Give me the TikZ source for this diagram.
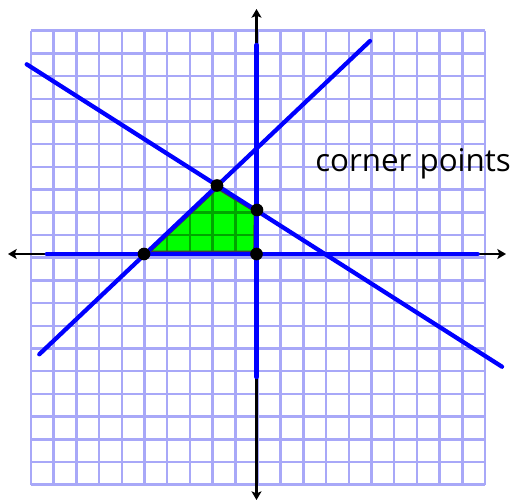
\documentclass[tikz,border=0pt]{standalone}
\usepackage{fontspec}
\setsansfont{Open Sans}
\usetikzlibrary{arrows.meta}
\definecolor{gridc}{RGB}{168,168,248}
\definecolor{greenfill}{RGB}{0,255,0}
\definecolor{greengrid}{RGB}{0,165,0}
\definecolor{lineblue}{RGB}{0,0,255}
\tikzset{
  gridline/.style={draw=gridc, line width=1.9pt},
  axisline/.style={draw=black, line width=1.7pt, -{Stealth[length=6.5pt,width=7.5pt,inset=1.5pt]}},
  blueline/.style={draw=lineblue, line width=3.2pt, line cap=round},
  cornerdot/.style={circle, fill=black, inner sep=0pt, minimum size=9.5pt},
  labeltext/.style={font=\sffamily\fontsize{23.5}{27}\selectfont, inner sep=0pt, anchor=base west}
}
\begin{document}
\begin{tikzpicture}[x=0.75pt, y=-0.75pt]
\useasboundingbox (0,0) rectangle (516,503);
% grid
\foreach \i in {0,...,20} {
  \draw[gridline] ({31+22.7*\i},30.7) -- ({31+22.7*\i},484.7);
  \draw[gridline] (31,{30.7+22.7*\i}) -- (485,{30.7+22.7*\i});
}
% corner points
\coordinate (A) at (144,254);
\coordinate (B) at (217,185.5);
\coordinate (C) at (257,210);
\coordinate (D) at (256.5,254);
% feasible region
\fill[greenfill] (A) -- (B) -- (C) -- (D) -- cycle;
\begin{scope}
  \clip (A) -- (B) -- (C) -- (D) -- cycle;
  \foreach \i in {0,...,20} {
    \draw[draw=greengrid, line width=1.9pt] ({31+22.7*\i},30.7) -- ({31+22.7*\i},484.7);
    \draw[draw=greengrid, line width=1.9pt] (31,{30.7+22.7*\i}) -- (485,{30.7+22.7*\i});
  }
  \draw[draw=black!75, line width=5pt] (A) -- (B) -- (C) -- (D) -- cycle;
\end{scope}
% axes
\coordinate (xl) at (8,254);
\coordinate (xr) at (506,254);
\coordinate (yt) at (256.5,9);
\coordinate (yb) at (256.5,500);
\draw[axisline] (256.5,254) -- (xl);
\draw[axisline] (256.5,254) -- (xr);
\draw[axisline] (256.5,254) -- (yt);
\draw[axisline] (256.5,254) -- (yb);
% constraint lines
\coordinate (h1) at (46.7,254);
\coordinate (h2) at (477.7,254);
\coordinate (v1) at (256.5,45);
\coordinate (v2) at (256.5,377);
\coordinate (p1) at (39.3,354.3);
\coordinate (p2) at (370,41);
\coordinate (q1) at (26.7,64.3);
\coordinate (q2) at (502,366.7);
\draw[blueline] (h1) -- (h2);
\draw[blueline] (v1) -- (v2);
\draw[blueline] (p1) -- (p2);
\draw[blueline] (q1) -- (q2);
% dots
\node[cornerdot] (dA) at (A) {};
\node[cornerdot] (dB) at (B) {};
\node[cornerdot] (dC) at (C) {};
\node[cornerdot] (dD) at (D) {};
% label
\node[labeltext] (lab) at (315,171.7) {corner points};
\end{tikzpicture}
\end{document}
